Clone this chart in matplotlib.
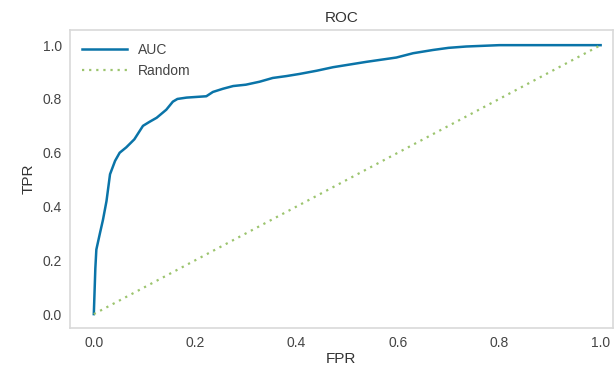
import matplotlib
matplotlib.use("Agg")
import matplotlib.pyplot as plt

# ROC curve
fpr = [0.0, 0.003, 0.005, 0.012, 0.018, 0.025, 0.032, 0.042, 0.051, 0.064, 0.08,
       0.097, 0.11, 0.124, 0.143, 0.156, 0.165, 0.183, 0.222, 0.235, 0.255, 0.275,
       0.3, 0.327, 0.353, 0.38, 0.406, 0.44, 0.472, 0.505, 0.538, 0.597, 0.63,
       0.669, 0.70, 0.735, 0.80, 0.88, 0.975, 1.0]
tpr = [0.0, 0.17, 0.24, 0.30, 0.35, 0.42, 0.52, 0.57, 0.60, 0.62, 0.65,
       0.70, 0.715, 0.73, 0.76, 0.79, 0.80, 0.805, 0.81, 0.826, 0.838, 0.848,
       0.853, 0.864, 0.878, 0.885, 0.893, 0.905, 0.918, 0.928, 0.938, 0.954, 0.97,
       0.982, 0.99, 0.995, 1.0, 1.0, 1.0, 1.0]
rand_x = [0.0, 1.0]
rand_y = [0.0, 1.0]

plt.rcParams['font.family'] = ['Liberation Sans', 'DejaVu Sans']

fig = plt.figure(figsize=(6.14, 3.67), dpi=100)
ax = fig.add_axes([0.114, 0.106, 0.884, 0.812])

ax.plot(fpr, tpr, color='#0a74a8', lw=1.8, label='AUC')
ax.plot(rand_x, rand_y, color='#9cc46e', lw=1.6, ls=(0, (1, 2.2)), label='Random')

ax.set_xlim(-0.047, 1.024)
ax.set_ylim(-0.052, 1.056)
ax.set_xticks([0.0, 0.2, 0.4, 0.6, 0.8, 1.0])
ax.set_yticks([0.0, 0.2, 0.4, 0.6, 0.8, 1.0])

for s in ax.spines.values():
    s.set_color('#d9d9d9')
    s.set_linewidth(1.2)
ax.tick_params(length=0, labelsize=10, colors='#444444', pad=6)

ax.set_title('ROC', fontsize=11, color='#333333')
ax.set_xlabel('FPR', fontsize=11, color='#333333', labelpad=1)
ax.set_ylabel('TPR', fontsize=11, color='#333333', labelpad=5)

leg = ax.legend(loc='upper left', frameon=False, fontsize=10, handlelength=3.2,
                labelcolor='#444444')

fig.savefig('out.png', dpi=100)
